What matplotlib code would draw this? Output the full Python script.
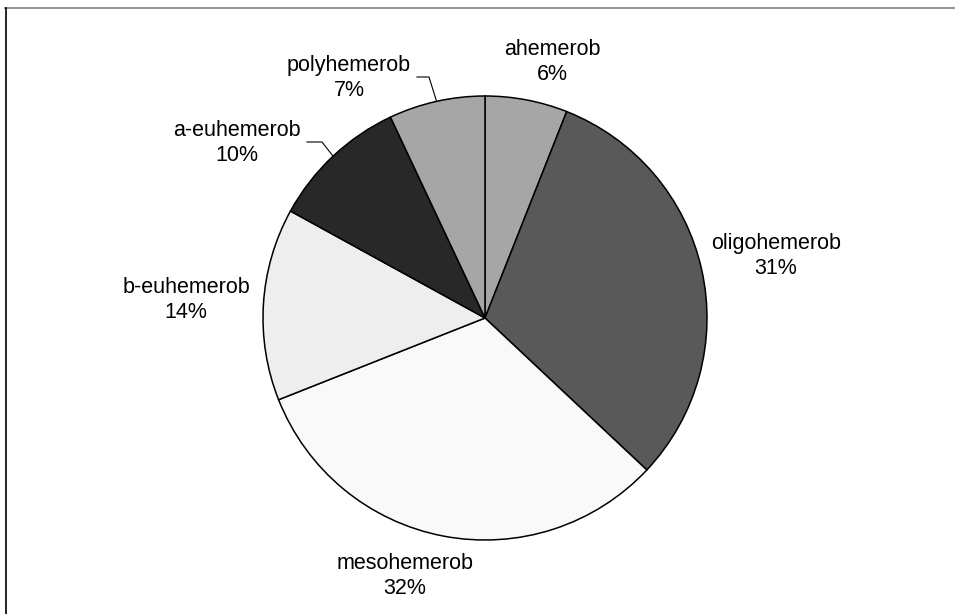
import matplotlib
matplotlib.use("Agg")
import matplotlib.pyplot as plt
import numpy as np

# ---- data ----
categories = ["ahemerob", "oligohemerob", "mesohemerob", "b-euhemerob", "a-euhemerob", "polyhemerob"]
values = [6, 31, 32, 14, 10, 7]

# ---- styles / layout ----
colors = ["#a6a6a6", "#595959", "#f9f9f9", "#eeeeee", "#282828", "#a6a6a6"]
W, H = 955, 614
center_px = (485, 318)
radius_px = 222
# label block centres in pixel coords (x, y from top)
label_pos = {
    "ahemerob": (552, 62),
    "oligohemerob": (776, 256),
    "mesohemerob": (405, 576),
    "b-euhemerob": (186, 300),
    "a-euhemerob": (237, 143),
    "polyhemerob": (349, 78),
}
# leader line starts (pixel coords) for labels that have one
leaders = {
    "polyhemerob": [(417, 77), (429, 77)],
    "a-euhemerob": [(307, 142), (322, 142)],
}

plt.rcParams["font.family"] = ["Liberation Sans", "DejaVu Sans"]

fig = plt.figure(figsize=(W / 100, H / 100), dpi=100)
ax = fig.add_axes([0, 0, 1, 1])

cx, cy = center_px[0], H - center_px[1]
wedges, _ = ax.pie(values, colors=colors, startangle=90, counterclock=False,
                   center=(cx, cy), radius=radius_px, frame=True,
                   wedgeprops=dict(edgecolor="black", linewidth=1.1))
ax.set_xlim(0, W)
ax.set_ylim(0, H)
ax.set_aspect("equal")
ax.axis("off")

for cat, v, w in zip(categories, values, wedges):
    x, y = label_pos[cat]
    ax.text(x, H - y, f"{cat}\n{v}%", ha="center", va="center",
            fontsize=15.5, linespacing=1.3, color="black")
    if cat in leaders:
        mid = np.deg2rad((w.theta1 + w.theta2) / 2)
        ex = cx + radius_px * np.cos(mid)
        ey = cy + radius_px * np.sin(mid)
        pts = leaders[cat]
        xs = [p[0] for p in pts] + [ex]
        ys = [H - p[1] for p in pts] + [ey]
        ax.plot(xs, ys, color="black", linewidth=0.8)

# outer frame (top and left edges)
fig.add_artist(plt.Line2D([5 / W, 1], [1 - 7.5 / H, 1 - 7.5 / H], transform=fig.transFigure,
                          color="#808080", linewidth=1.2))
fig.add_artist(plt.Line2D([5.5 / W, 5.5 / W], [0, 1 - 7.5 / H], transform=fig.transFigure,
                          color="black", linewidth=1.2))

fig.savefig("out.png", dpi=100)
